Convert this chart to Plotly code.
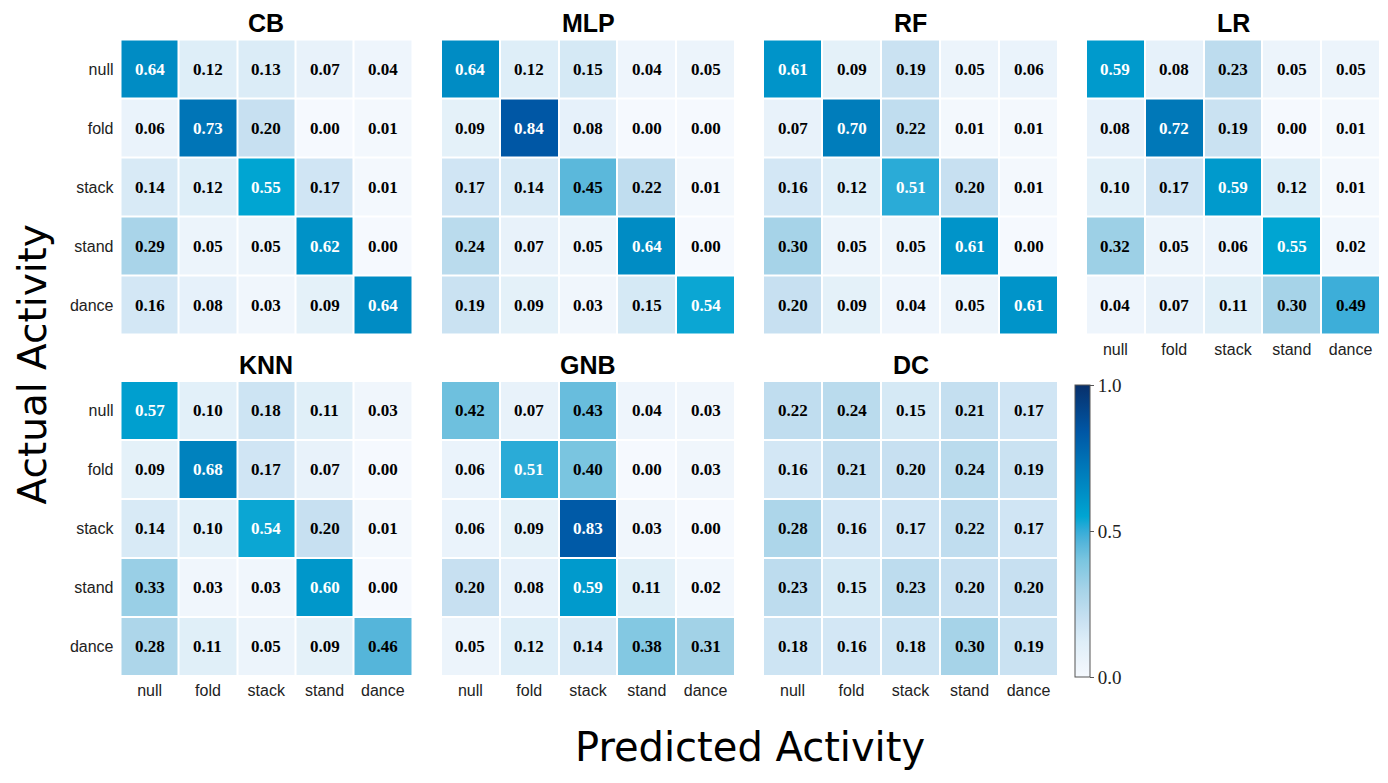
import plotly.graph_objects as go

labels = ["null", "fold", "stack", "stand", "dance"]

cb = [[0.64, 0.12, 0.13, 0.07, 0.04],
      [0.06, 0.73, 0.20, 0.00, 0.01],
      [0.14, 0.12, 0.55, 0.17, 0.01],
      [0.29, 0.05, 0.05, 0.62, 0.00],
      [0.16, 0.08, 0.03, 0.09, 0.64]]
mlp = [[0.64, 0.12, 0.15, 0.04, 0.05],
       [0.09, 0.84, 0.08, 0.00, 0.00],
       [0.17, 0.14, 0.45, 0.22, 0.01],
       [0.24, 0.07, 0.05, 0.64, 0.00],
       [0.19, 0.09, 0.03, 0.15, 0.54]]
rf = [[0.61, 0.09, 0.19, 0.05, 0.06],
      [0.07, 0.70, 0.22, 0.01, 0.01],
      [0.16, 0.12, 0.51, 0.20, 0.01],
      [0.30, 0.05, 0.05, 0.61, 0.00],
      [0.20, 0.09, 0.04, 0.05, 0.61]]
lr = [[0.59, 0.08, 0.23, 0.05, 0.05],
      [0.08, 0.72, 0.19, 0.00, 0.01],
      [0.10, 0.17, 0.59, 0.12, 0.01],
      [0.32, 0.05, 0.06, 0.55, 0.02],
      [0.04, 0.07, 0.11, 0.30, 0.49]]
knn = [[0.57, 0.10, 0.18, 0.11, 0.03],
       [0.09, 0.68, 0.17, 0.07, 0.00],
       [0.14, 0.10, 0.54, 0.20, 0.01],
       [0.33, 0.03, 0.03, 0.60, 0.00],
       [0.28, 0.11, 0.05, 0.09, 0.46]]
gnb = [[0.42, 0.07, 0.43, 0.04, 0.03],
       [0.06, 0.51, 0.40, 0.00, 0.03],
       [0.06, 0.09, 0.83, 0.03, 0.00],
       [0.20, 0.08, 0.59, 0.11, 0.02],
       [0.05, 0.12, 0.14, 0.38, 0.31]]
dc = [[0.22, 0.24, 0.15, 0.21, 0.17],
      [0.16, 0.21, 0.20, 0.24, 0.19],
      [0.28, 0.16, 0.17, 0.22, 0.17],
      [0.23, 0.15, 0.23, 0.20, 0.20],
      [0.18, 0.16, 0.18, 0.30, 0.19]]

models = ["CB", "MLP", "RF", "LR", "KNN", "GNB", "DC"]
matrices = [cb, mlp, rf, lr, knn, gnb, dc]

# page body has an 8px margin, so the figure is a bit smaller than the window
OFF = 8
W, H = 1388 - OFF, 783 - OFF


def px_x(v):
    return (v - OFF) / W


def px_y(v):
    return 1 - (v - OFF) / H


# panel boxes in window pixels: (left, right) / (top, bottom)
cols_px = [(120.5, 412), (441, 735), (763, 1058), (1086, 1380)]
rows_px = [(39.5, 334.5), (381, 676)]
title_gap = 39.5 - OFF  # title box top sits this far above the heatmap

blues = [[0.0, "#f5f9fe"], [0.05, "#ecf4fb"], [0.12, "#deeef8"], [0.2, "#c7e0f1"],
         [0.3, "#a6d3e8"], [0.4, "#7ac5e0"], [0.46, "#55b5da"], [0.5, "#35acd8"],
         [0.55, "#00a5d2"], [0.64, "#008cc4"], [0.73, "#0075b7"], [0.84, "#0057a5"],
         [1.0, "#08306b"]]

serif = "Liberation Serif, Times New Roman, serif"
sans = "Liberation Sans, Arial, sans-serif"
wide = "DejaVu Sans, Verdana, sans-serif"

fig = go.Figure()
annotations = []

for i, (name, z) in enumerate(zip(models, matrices)):
    r, c = divmod(i, 4)
    n = i + 1
    xa = "x" if n == 1 else "x%d" % n
    ya = "y" if n == 1 else "y%d" % n
    x0, x1 = cols_px[c]
    y0, y1 = rows_px[r]
    fig.add_trace(go.Heatmap(z=z, x=labels, y=labels, coloraxis="coloraxis",
                             xgap=2, ygap=2, xaxis=xa, yaxis=ya,
                             hovertemplate="%{y} → %{x}: %{z:.2f}<extra></extra>"))
    show_x = (r == 1) or (name == "LR")
    show_y = (c == 0)
    fig.layout["xaxis" if n == 1 else "xaxis%d" % n] = dict(
        domain=[px_x(x0), px_x(x1)], anchor=ya, showticklabels=show_x,
        showgrid=False, zeroline=False, showline=False, ticks="",
        ticklabelstandoff=3,
        tickfont=dict(family=sans, size=16, color="#222"))
    fig.layout["yaxis" if n == 1 else "yaxis%d" % n] = dict(
        domain=[px_y(y1), px_y(y0)], anchor=xa, showticklabels=show_y,
        autorange="reversed", showgrid=False, zeroline=False, showline=False,
        ticks="", ticklabelstandoff=6,
        tickfont=dict(family=sans, size=16, color="#222"))
    annotations.append(dict(text="<b>%s</b>" % name, x=px_x((x0 + x1) / 2),
                            y=px_y(y0 - title_gap), xref="paper", yref="paper",
                            xanchor="center", yanchor="top", showarrow=False,
                            borderpad=0,
                            font=dict(family=sans, size=25, color="black")))
    for ri, row in enumerate(z):
        for ci, v in enumerate(row):
            annotations.append(dict(text="<b>%.2f</b>" % v, x=labels[ci], y=labels[ri],
                                    xref=xa, yref=ya, showarrow=False,
                                    font=dict(family=serif, size=17,
                                              color="white" if v >= 0.5 else "black")))

annotations.append(dict(text="Predicted Activity", x=px_x(750), y=px_y(747),
                        xref="paper", yref="paper", showarrow=False,
                        xanchor="center", yanchor="middle",
                        font=dict(family=wide, size=40, color="black")))
annotations.append(dict(text="Actual Activity", x=0, y=px_y(365),
                        xref="paper", yref="paper", showarrow=False, textangle=-90,
                        xanchor="left", yanchor="middle", borderpad=0,
                        font=dict(family=wide, size=39, color="black")))

fig.update_layout(
    width=W, height=H,
    margin=dict(l=0, r=0, t=0, b=0),
    paper_bgcolor="white", plot_bgcolor="white",
    showlegend=False,
    annotations=annotations,
    coloraxis=dict(
        cmin=0, cmax=1, colorscale=blues,
        colorbar=dict(x=px_x(1075), xanchor="left", y=px_y(385), yanchor="top",
                      len=292, lenmode="pixels", thickness=15,
                      outlinewidth=1, outlinecolor="#555",
                      tickvals=[0, 0.5, 1], ticktext=["0.0", "0.5", "1.0"],
                      ticks="outside", ticklen=4, tickcolor="#555",
                      tickfont=dict(family=serif, size=19, color="#222"),
                      xpad=0, ypad=0)),
)

fig.write_html("out.html")
